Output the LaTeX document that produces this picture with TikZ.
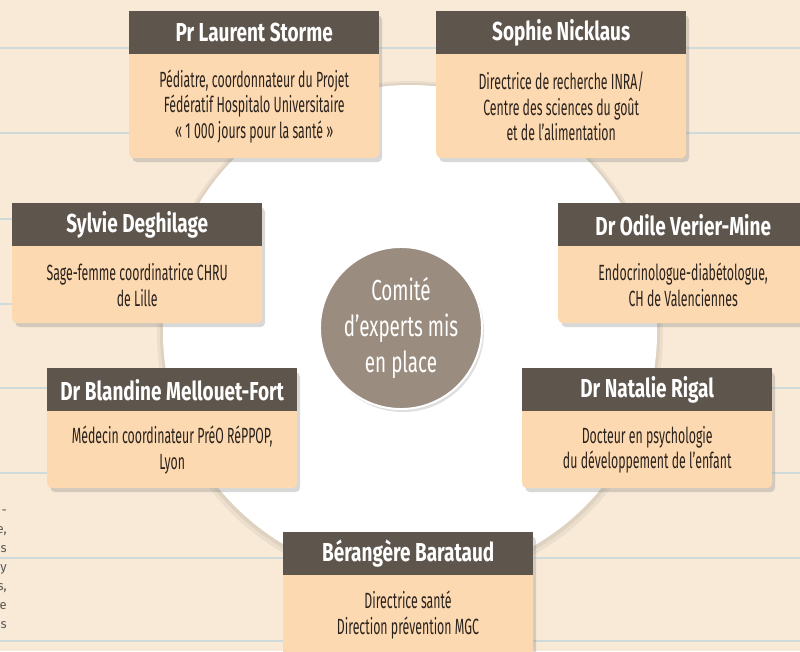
\documentclass[tikz,border=0pt]{standalone}
\usepackage{fontspec}
\newfontfamily\bodyfont[FakeStretch=0.56]{Fira Sans}
\newfontfamily\headfont[FakeStretch=0.73]{Fira Sans}
\newfontfamily\hubfont[FakeStretch=0.65]{Fira Sans}
\newfontfamily\notefont{Fira Sans}
\usetikzlibrary{positioning,shadows,calc}

\definecolor{paper}{HTML}{F8EAD7}
\definecolor{ruleblue}{HTML}{CFDBDA}
\definecolor{peach}{HTML}{FCD9B0}
\definecolor{taupe}{HTML}{5E554D}
\definecolor{ink}{HTML}{2A221D}
\definecolor{hubgray}{HTML}{9B8C80}

\tikzset{
	card/.style = {fill = peach, rounded corners = 5pt, minimum width = 250pt, anchor = north west,
		drop shadow = {shadow xshift = 3pt, shadow yshift = -4pt, opacity = 0.3}},
	banner/.style = {fill = taupe, minimum width = 250pt, minimum height = 43pt, inner sep = 0pt,
		anchor = north, text = white, font = \headfont\bfseries\fontsize{26}{26}\selectfont},
	blurb/.style = {align = center, text = ink, inner sep = 0pt,
		font = \bodyfont\fontsize{22}{25.5}\selectfont},
	hub/.style = {circle, fill = hubgray, draw = white, line width = 2pt, minimum size = 158pt,
		align = center, text = white, font = \hubfont\fontsize{29}{36}\selectfont,
		drop shadow = {shadow xshift = 2pt, shadow yshift = -3pt, opacity = 0.25}},
	rule/.style = {draw = ruleblue, line width = 1.3pt}
}

\begin{document}
\begin{tikzpicture}[x = 1pt, y = -1pt]
	\useasboundingbox (0, 0) rectangle (800, 651) ;
	\clip (0, 0) rectangle (800, 651) ;
	\fill [paper] (0, 0) rectangle (800, 651) ;
	\foreach \y in {48, 133, 219, 304, 388, 473, 558, 641}
		\draw [rule] (0, \y) -- (800, \y) ;
	
	% cut-off column on the left
	\node [anchor = north east, align = right, inner sep = 0pt, text = black!65,
		font = \notefont\fontsize{13}{19}\selectfont] (margin) at (7, 510)
		{-\\e,\\s\\y\\s,\\e\\s} ;
	
	% white disc behind the cards
	\fill [black, opacity = 0.05] (410, 334) circle [radius = 253pt] ;
	\fill [black, opacity = 0.05] (410, 333) circle [radius = 250pt] ;
	\fill [white] (410, 332) circle [radius = 247pt] ;
	
	\node [hub] (comite) at (401, 328) {Comité\\d’experts mis\\en place} ;
	
	% top row
	\node [card, minimum height = 147pt] (cStorme) at (129, 11) {} ;
	\node [banner] (hStorme) at (cStorme.north) {Pr Laurent Storme} ;
	\node [blurb] (tStorme) at ($(hStorme.south)!.5!(cStorme.south)$)
		{Pédiatre, coordonnateur du Projet\\Fédératif Hospitalo Universitaire\\«~1~000 jours pour la santé~»} ;
	
	\node [card, minimum height = 147pt] (cNicklaus) at (436, 11) {} ;
	\node [banner] (hNicklaus) at (cNicklaus.north) {Sophie Nicklaus} ;
	\node [blurb] (tNicklaus) at ($(hNicklaus.south)!.5!(cNicklaus.south)$)
		{Directrice de recherche INRA/\\Centre des sciences du goût\\et de l’alimentation} ;
	
	% middle rows
	\node [card, minimum height = 120pt] (cDeghilage) at (12, 203) {} ;
	\node [banner] (hDeghilage) at (cDeghilage.north) {Sylvie Deghilage} ;
	\node [blurb] (tDeghilage) at ($(hDeghilage.south)!.5!(cDeghilage.south)$)
		{Sage-femme coordinatrice CHRU\\de Lille} ;
	
	\node [card, minimum height = 120pt] (cVerier) at (558, 203) {} ;
	\node [banner] (hVerier) at (cVerier.north) {Dr Odile Verier-Mine} ;
	\node [blurb] (tVerier) at ($(hVerier.south)!.5!(cVerier.south)$)
		{Endocrinologue-diabétologue,\\CH de Valenciennes} ;
	
	\node [card, minimum height = 120pt] (cMellouet) at (47, 368) {} ;
	\node [banner] (hMellouet) at (cMellouet.north) {Dr Blandine Mellouet-Fort} ;
	\node [blurb] (tMellouet) at ($(hMellouet.south)!.5!(cMellouet.south)$)
		{Médecin coordinateur PréO RéPPOP,\\Lyon} ;
	
	\node [card, minimum height = 120pt] (cRigal) at (522, 368) {} ;
	\node [banner] (hRigal) at (cRigal.north) {Dr Natalie Rigal} ;
	\node [blurb] (tRigal) at ($(hRigal.south)!.5!(cRigal.south)$)
		{Docteur en psychologie\\du développement de l’enfant} ;
	
	% bottom
	\node [card, minimum height = 130pt] (cBarataud) at (283, 532) {} ;
	\node [banner] (hBarataud) at (cBarataud.north) {Bérangère Barataud} ;
	\node [blurb] (tBarataud) at (408, 615)
		{Directrice santé\\Direction prévention MGC} ;
	
\end{tikzpicture}
\end{document}
